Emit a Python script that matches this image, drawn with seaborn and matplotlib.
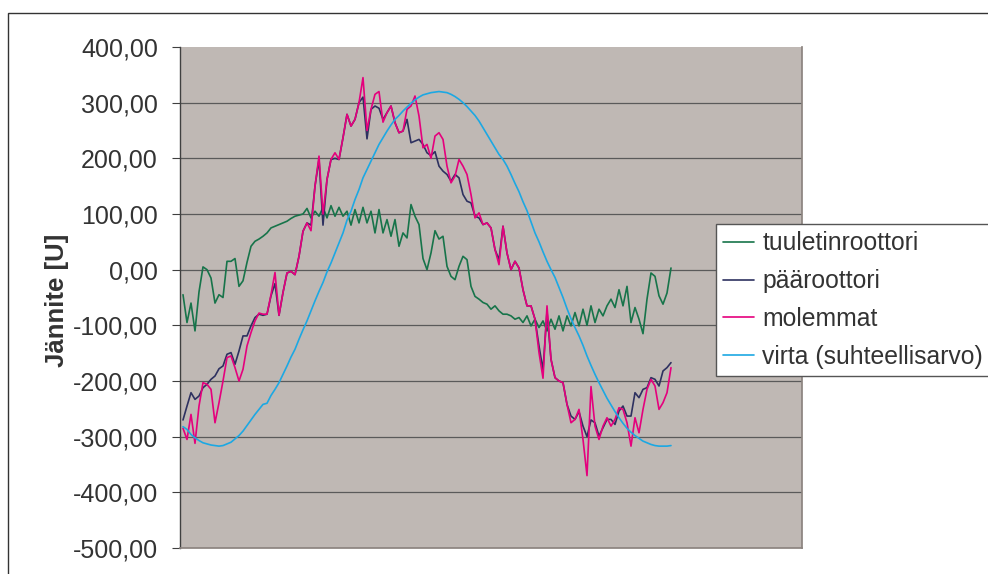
import numpy as np
import pandas as pd
import matplotlib
matplotlib.use("Agg")
import matplotlib.pyplot as plt
from matplotlib.patches import Rectangle
from matplotlib.ticker import FuncFormatter
import seaborn as sns

# ====== DATA ======
sarjat = ["tuuletinroottori", "pääroottori", "molemmat", "virta (suhteellisarvo)"]
varit = ["#17744A", "#2E3160", "#E5007D", "#1CA8E3"]

tuuletin = [-45, -95, -60, -110, -40, 5, 0, -15, -60, -45,
            -50, 15, 15, 20, -30, -20, 13, 42, 51, 55,
            60, 66, 75, 78, 81, 84, 87, 92, 96, 98,
            100, 110, 93, 105, 96, 112, 93, 115, 96, 112,
            96, 105, 80, 108, 84, 112, 84, 105, 66, 108,
            66, 90, 60, 90, 42, 66, 57, 117, 96, 81,
            20, 0, 30, 70, 55, 60, 6, -12, -18, 6,
            24, 18, -30, -48, -53, -59, -62, -71, -65, -74,
            -80, -80, -83, -89, -86, -95, -83, -101, -89, -104,
            -92, -110, -89, -107, -83, -110, -83, -101, -77, -101,
            -71, -100, -65, -95, -71, -83, -65, -53, -68, -36,
            -65, -30, -95, -68, -89, -115, -53, -6, -12, -47,
            -62, -42, 3]

paa = [-270, -245, -221, -233, -227, -212, -206, -197, -191, -178,
       -173, -152, -149, -170, -146, -119, -119, -101, -86, -80,
       -82, -80, -47, -25, -82, -41, -6, -3, -9, 24,
       69, 84, 80, 150, 198, 80, 162, 198, 200, 198,
       237, 279, 258, 270, 300, 310, 235, 288, 294, 290,
       270, 282, 294, 264, 246, 249, 270, 228, 231, 234,
       225, 210, 205, 212, 186, 177, 171, 159, 171, 165,
       135, 123, 120, 96, 93, 81, 84, 75, 36, 18,
       78, 30, 0, 15, 3, -36, -65, -65, -89, -137,
       -180, -75, -161, -194, -200, -203, -242, -263, -269, -255,
       -281, -300, -270, -275, -299, -284, -269, -269, -278, -254,
       -245, -263, -263, -221, -230, -215, -212, -194, -197, -209,
       -182, -176, -167]

molemmat = [-285, -305, -260, -312, -245, -203, -206, -215, -275, -239,
            -200, -158, -155, -176, -200, -179, -137, -113, -92, -78,
            -80, -80, -45, -5, -82, -41, -6, -3, -9, 24,
            69, 84, 70, 150, 204, 100, 162, 198, 210, 198,
            237, 279, 258, 270, 300, 345, 250, 288, 315, 320,
            265, 282, 294, 264, 246, 249, 288, 294, 312, 276,
            219, 225, 200, 240, 246, 234, 186, 156, 168, 198,
            186, 171, 135, 93, 102, 81, 84, 75, 36, 9,
            78, 30, 0, 15, 3, -36, -65, -65, -89, -149,
            -195, -65, -161, -194, -200, -203, -242, -275, -269, -251,
            -305, -370, -210, -281, -305, -281, -266, -281, -269, -248,
            -251, -275, -317, -266, -293, -251, -215, -197, -209, -251,
            -239, -221, -176]

virta = [-282, -287, -296, -302, -307, -311, -313, -315, -316, -317,
         -316, -313, -310, -304, -298, -290, -280, -270, -260, -251,
         -242, -240, -226, -215, -203, -188, -173, -157, -143, -125,
         -108, -92, -74, -56, -39, -23, -4, 12, 30, 48,
         66, 89, 105, 126, 144, 165, 180, 195, 210, 225,
         237, 249, 260, 270, 277, 285, 292, 299, 305, 310,
         314, 316, 318, 319, 320, 319, 318, 315, 311, 306,
         300, 293, 285, 277, 267, 255, 243, 231, 219, 207,
         198, 186, 171, 155, 140, 122, 106, 86, 66, 50,
         32, 15, 0, -14, -32, -50, -70, -88, -104, -119,
         -136, -155, -172, -188, -203, -217, -231, -243, -255, -266,
         -276, -285, -292, -298, -303, -308, -311, -314, -316, -317,
         -317, -317, -316]

y_ticks = [-500, -400, -300, -200, -100, 0, 100, 200, 300, 400]

# ====== LONG TABLE ======
n = np.arange(len(virta))
df = pd.concat([
    pd.DataFrame({"n": n, "jannite": vals, "sarja": name})
    for name, vals in zip(sarjat, [tuuletin, paa, molemmat, virta])
], ignore_index=True)

# ====== STYLE ======
sns.set_theme(style="white")
plt.rcParams["font.family"] = ["Liberation Sans", "DejaVu Sans"]
teksti = "#333333"

fig = plt.figure(figsize=(9.88, 5.74), dpi=100)
ax = fig.add_axes([180 / 988, 1 - 548 / 574, 622 / 988, 501 / 574])
ax.set_facecolor("#BFB8B4")

sns.lineplot(data=df, x="n", y="jannite", hue="sarja", hue_order=sarjat,
             palette=varit, linewidth=1.2, ax=ax, legend=True, sort=False)

ax.set_xlim(-0.75, 154.75)
ax.set_ylim(-500, 400)
ax.set_yticks(y_ticks)
ax.yaxis.set_major_formatter(FuncFormatter(lambda v, p: f"{v:.2f}".replace(".", ",")))
ax.set_xticks([])
ax.set_xlabel("")
ax.tick_params(axis="y", which="major", direction="out", length=6, width=0.8,
               color="#404040", pad=10, labelsize=18, labelcolor=teksti, left=True)

# horizontal gridlines between the top and bottom edges
for v in y_ticks[1:-1]:
    ax.axhline(v, color="#5A5A5A", linewidth=0.9, zorder=0.5)

ax.spines["top"].set_visible(False)
ax.spines["left"].set_color("#404040")
ax.spines["left"].set_linewidth(1.0)
ax.spines["right"].set_color("#8C8480")
ax.spines["bottom"].set_color("#8C8480")

ax.set_ylabel("Jännite [U]", fontsize=18.5, fontweight="bold", color=teksti)
ax.yaxis.set_label_coords(-0.178, 0.495)

# legend outside, right (box runs past the right edge of the picture)
handles, labels = ax.get_legend_handles_labels()
ax.get_legend().remove()
leg = fig.legend(handles, labels, loc="upper left", mode="expand",
                 bbox_to_anchor=(716 / 988, 0, 0.3, 1 - 224 / 574),
                 bbox_transform=fig.transFigure, frameon=True, fancybox=False,
                 edgecolor="#555555", framealpha=1, borderaxespad=0,
                 fontsize=17.8, handlelength=1.25, handletextpad=0.33,
                 labelspacing=0.56, borderpad=0.3)
leg.get_frame().set_linewidth(1.0)
for t in leg.get_texts():
    t.set_color(teksti)

# outer chart frame (cropped on the right and bottom)
fig.add_artist(Rectangle((8 / 988, -0.1), 1.2, 1.1 - 13 / 574,
                         transform=fig.transFigure, fill=False,
                         edgecolor="#333333", linewidth=1.0, clip_on=False))

fig.savefig("out.png", dpi=100)
plt.close(fig)
